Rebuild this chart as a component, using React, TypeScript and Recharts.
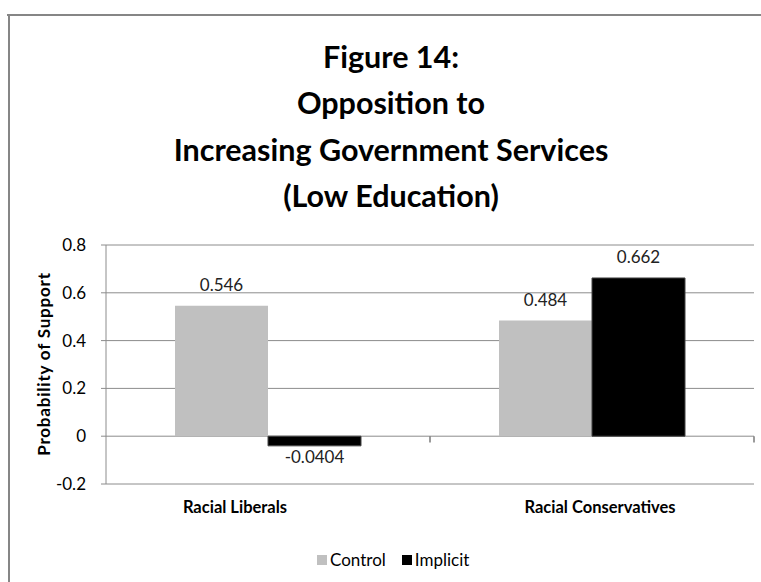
import { BarChart, Bar, XAxis, YAxis, CartesianGrid, LabelList, ReferenceLine } from "recharts";

const categories = ["Racial Liberals", "Racial Conservatives"];
const controlValues = [0.546, 0.484];
const implicitValues = [-0.0404, 0.662];
const yTicks = [-0.2, 0, 0.2, 0.4, 0.6, 0.8];
const categoryEdges = [1, 2];
const titleLines = ["Figure 14:", "Opposition to", "Increasing Government Services", "(Low Education)"];

const data = categories.map((name, i) => ({
    name,
    edge: i + 1,
    control: controlValues[i],
    implicit: implicitValues[i],
}));

const font = "Lato, 'Open Sans', sans-serif";
// the category labels sit a little off-centre in the original
const catShift = [-33, 8];

const ValueLabel = (props: any) => {
    const { x, y, width, height, value } = props;
    const top = Math.min(y, y + height);
    const bottom = Math.max(y, y + height);
    const ty = value >= 0 ? top - 15 : bottom + 17;
    return (
        <text x={x + width / 2} y={ty} textAnchor="middle" fill="#222" fontSize={17} fontFamily={font}>
            {value}
        </text>
    );
};

const CatTick = (props: any) => {
    const { x, y, payload, index } = props;
    return (
        <text x={x + (catShift[index] || 0)} y={y + 21} textAnchor="middle" fill="#000" fontSize={16.5} fontWeight="bold" fontFamily={font}>
            {payload.value}
        </text>
    );
};

export default function App() {
    return (
        <div style={{ position: "absolute", left: 0, top: 0, width: 761, height: 582, background: "#fff", fontFamily: font }}>
            <svg width={761} height={582} style={{ position: "absolute", left: 0, top: 0 }}>
                <rect x={7} y={14} width={754} height={2} fill="#868686" />
                <rect x={8} y={14} width={2} height={568} fill="#868686" />
                {titleLines.map((t, i) => (
                    <text key={t} x={391} y={68 + i * 46.3} textAnchor="middle" fontFamily={font} fontWeight="bold" fontSize={30.5} fill="#000">
                        {t}
                    </text>
                ))}
                <text x={50} y={364} transform="rotate(-90 50 364)" textAnchor="middle" fontFamily={font} fontWeight="bold" fontSize={17} letterSpacing={0.8} fill="#000">
                    Probability of Support
                </text>
            </svg>
            <div style={{ position: "absolute", left: 0, top: 0 }}>
                <BarChart width={761} height={582} data={data} margin={{ top: 245, right: 7, left: 46, bottom: 68 }} barCategoryGap="21.3%" barGap={0}>
                    <CartesianGrid vertical={false} stroke="#8c8c8c" />
                    <XAxis dataKey="name" height={30} axisLine={false} tickLine={false} tick={<CatTick />} />
                    <XAxis xAxisId="edges" dataKey="edge" type="number" domain={[0, 2]} allowDataOverflow hide />
                    <YAxis
                        width={60}
                        domain={[-0.2, 0.8]}
                        ticks={yTicks}
                        stroke="#8c8c8c"
                        tickSize={5}
                        tickMargin={15}
                        tick={{ fill: "#000", fontSize: 17, fontFamily: font }}
                    />
                    <Bar dataKey="control" fill="#c0c0c0" isAnimationActive={false}>
                        <LabelList dataKey="control" content={<ValueLabel />} />
                    </Bar>
                    <Bar dataKey="implicit" fill="#000" stroke="#444" strokeWidth={1} isAnimationActive={false}>
                        <LabelList dataKey="implicit" content={<ValueLabel />} />
                    </Bar>
                    {categoryEdges.map((e) => (
                        <ReferenceLine
                            key={e}
                            xAxisId="edges"
                            segment={[{ x: e, y: 0 }, { x: e, y: -0.026 }]}
                            stroke="#7a7a7a"
                            strokeWidth={1.5}
                            ifOverflow="extendDomain"
                        />
                    ))}
                </BarChart>
            </div>
            <div style={{ position: "absolute", left: 317, top: 549, display: "flex", alignItems: "center", fontSize: 17, color: "#000", fontFamily: font }}>
                <span style={{ width: 10, height: 10, background: "#c0c0c0", display: "inline-block", marginRight: 3 }} />
                <span style={{ marginRight: 16 }}>Control</span>
                <span style={{ width: 10, height: 10, background: "#000", display: "inline-block", marginRight: 3 }} />
                <span>Implicit</span>
            </div>
        </div>
    );
}
